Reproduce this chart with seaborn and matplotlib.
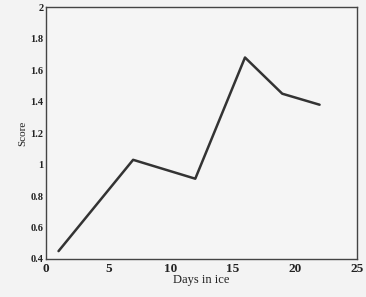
import matplotlib
matplotlib.use("Agg")
import matplotlib.pyplot as plt
import seaborn as sns
import pandas as pd
from matplotlib.ticker import FuncFormatter

days = [1, 7, 12, 16, 19, 22]
score = [0.45, 1.03, 0.91, 1.68, 1.45, 1.38]
x_ticks = [0, 5, 10, 15, 20, 25]
y_ticks = [0.4, 0.6, 0.8, 1.0, 1.2, 1.4, 1.6, 1.8, 2.0]

sns.set_style("white")
plt.rcParams['font.family'] = ['Liberation Serif', 'DejaVu Serif']

df = pd.DataFrame({"Days in ice": days, "Score": score})

fig = plt.figure(figsize=(3.66, 2.97), dpi=100, facecolor="#f3f3f3")
ax = fig.add_axes([0.126, 0.128, 0.849, 0.848])
ax.set_facecolor("#f5f5f5")
sns.lineplot(data=df, x="Days in ice", y="Score", ax=ax, color="#333333", linewidth=1.8)

ax.set_xlim(0, 25)
ax.set_ylim(0.4, 2.0)
ax.set_xticks(x_ticks)
ax.set_yticks(y_ticks)
ax.yaxis.set_major_formatter(FuncFormatter(lambda v, p: f"{v:g}"))
ax.tick_params(direction="in", length=3, pad=2, colors="#222222")
ax.tick_params(axis="x", labelsize=9.5, pad=3)
ax.tick_params(axis="y", labelsize=7.5)
for lab in ax.get_xticklabels() + ax.get_yticklabels():
    lab.set_fontweight("bold")
for s in ax.spines.values():
    s.set_color("#444444")
    s.set_linewidth(1.0)
ax.set_xlabel("Days in ice", fontsize=9, labelpad=-1, color="#222222")
ax.set_ylabel("Score", fontsize=8, labelpad=2, color="#222222")

fig.savefig("out.png", dpi=100, facecolor=fig.get_facecolor())
